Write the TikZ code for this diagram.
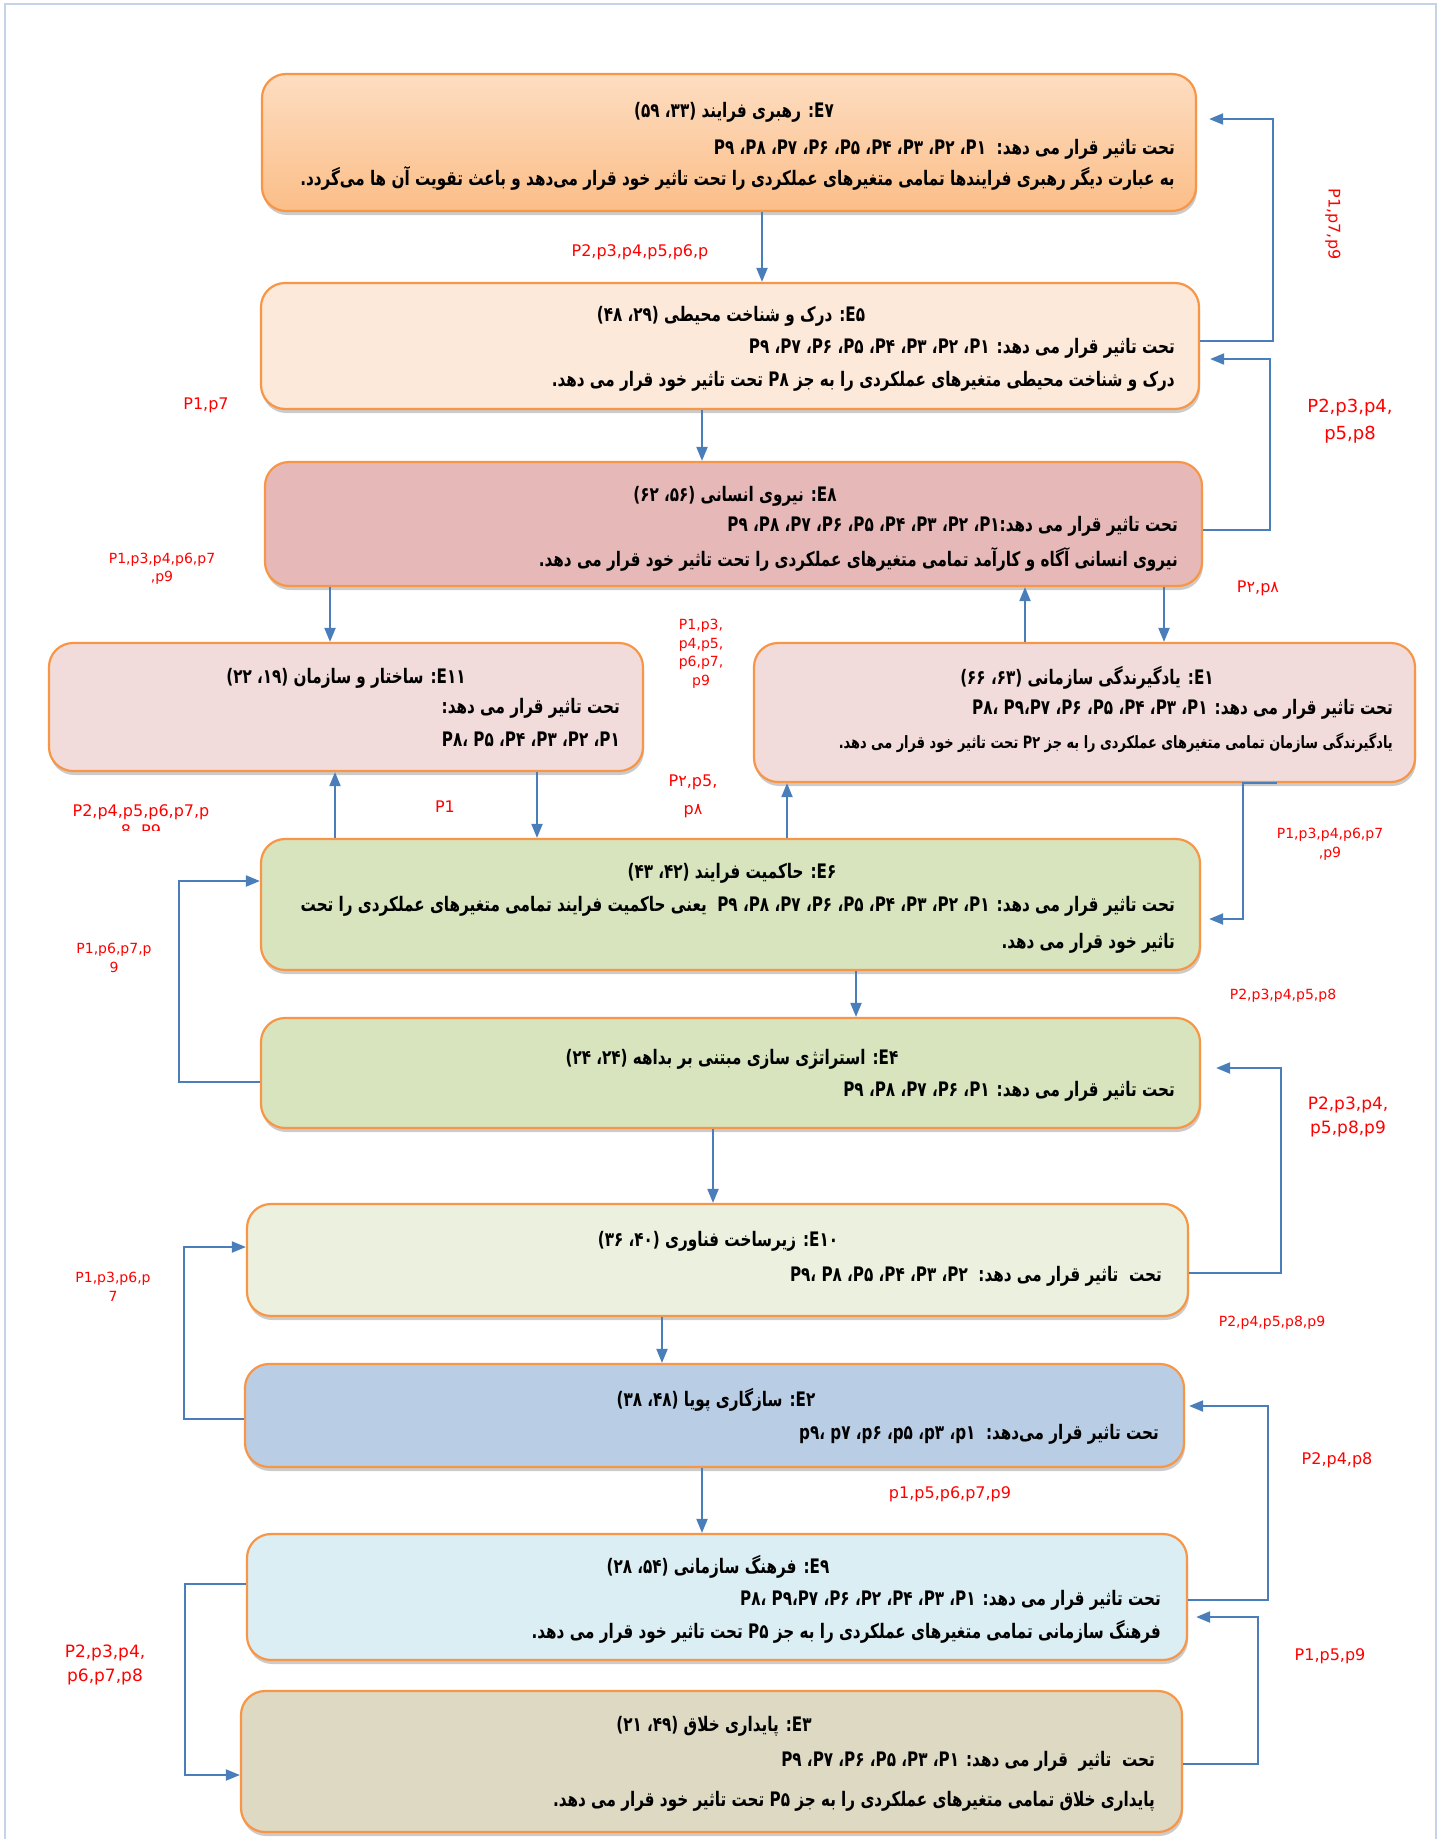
\documentclass[tikz,border=0pt]{standalone}
\usepackage{fontspec}
\setmainfont{DejaVu Sans}
\newfontfamily\fafont[Script=Arabic,FakeStretch=0.76]{DejaVu Sans}
\TeXXeTstate=1
\usetikzlibrary{arrows.meta,shadows}
\newcommand{\rl}[1]{\beginR #1\endR}
\newcommand{\ac}{\kern0pt،\kern0pt}
\begin{document}
\begin{tikzpicture}[x=1pt,y=-1pt,
  ebox/.style={draw=eborder,line width=2.2pt,rounded corners=24pt,inner sep=0pt,
    drop shadow={shadow xshift=1pt,shadow yshift=-4pt,fill=black!45,opacity=0.45}},
  ttl/.style={anchor=mid,yshift=-4pt,inner sep=0pt,font=\fontsize{20}{24}\selectfont\fafont\bfseries},
  txt/.style={anchor=mid east,yshift=-4pt,inner sep=0pt,font=\fontsize{20}{24}\selectfont\fafont\bfseries},
  stxt/.style={txt,font=\fontsize{17}{21}\selectfont\fafont\bfseries},
  lbl/.style={text=red,align=center,inner sep=1pt,font=\fontsize{16}{20}\selectfont},
  slbl/.style={lbl,font=\fontsize{14}{18.5}\selectfont},
  blbl/.style={lbl,font=\fontsize{17}{24}\selectfont},
  conn/.style={draw=arrowc,line width=2pt,-{Triangle[length=14pt,width=11pt]}}]
\definecolor{eborder}{HTML}{F79646}
\definecolor{arrowc}{HTML}{4A7EBB}
\definecolor{framec}{HTML}{C5D3E8}
\definecolor{e7a}{HTML}{FDDDC1}
\definecolor{e7b}{HTML}{FBBE88}
\definecolor{e5}{HTML}{FDE9D9}
\definecolor{e8}{HTML}{E6B9B8}
\definecolor{e11}{HTML}{F2DCDB}
\definecolor{e6}{HTML}{D7E4BD}
\definecolor{e10}{HTML}{EBF1DE}
\definecolor{e2}{HTML}{B9CDE5}
\definecolor{e9}{HTML}{DBEEF4}
\definecolor{e3}{HTML}{DDD9C3}
\useasboundingbox (0,0) rectangle (1439,1839);
\draw[framec,line width=1.2pt] (5,1839) -- (5,4) -- (1436,4) -- (1436,1839);

\node[ebox,top color=e7a,bottom color=e7b,minimum width=934pt,minimum height=137pt] (E7) at (729,142.5) {};
\node[ebox,fill=e5,minimum width=938pt,minimum height=126pt] (E5) at (730,346) {};
\node[ebox,fill=e8,minimum width=937pt,minimum height=124pt] (E8) at (733.5,524) {};
\node[ebox,fill=e11,minimum width=594pt,minimum height=128pt] (E11) at (346,707) {};
\node[ebox,fill=e11,minimum width=661pt,minimum height=139pt] (E1) at (1084.5,712.5) {};
\node[ebox,fill=e6,minimum width=939pt,minimum height=131pt] (E6) at (730.5,904.5) {};
\node[ebox,fill=e6,minimum width=939pt,minimum height=110pt] (E4) at (730.5,1073) {};
\node[ebox,fill=e10,minimum width=941pt,minimum height=112pt] (E10) at (717.5,1260) {};
\node[ebox,fill=e2,minimum width=939pt,minimum height=103pt] (E2) at (714.5,1415.5) {};
\node[ebox,fill=e9,minimum width=940pt,minimum height=126pt] (E9) at (717,1597) {};
\node[ebox,fill=e3,minimum width=941pt,minimum height=141pt] (E3) at (711.5,1761.5) {};

\node[ttl] (E7t) at (734,111) {\rl{E۷\kern0pt: رهبری فرایند (۳۳، ۵۹)}};
\node[txt] (E7a) at (1175,148) {\rl{تحت تاثیر قرار می دهد:\ \ P۱\ac{} P۲\ac{} P۳\ac{} P۴\ac{} P۵\ac{} P۶\ac{} P۷\ac{} P۸\ac{} P۹}};
\node[txt] (E7b) at (1175,179) {\rl{به عبارت دیگر رهبری فرایندها تمامی متغیرهای عملکردی را تحت تاثیر خود قرار می‌دهد و باعث تقویت آن ها می‌گردد.}};

\node[ttl] (E5t) at (731,315) {\rl{E۵\kern0pt: درک و شناخت محیطی (۲۹، ۴۸)}};
\node[txt] (E5a) at (1175,347) {\rl{تحت تاثیر قرار می دهد: P۱\ac{} P۲\ac{} P۳\ac{} P۴\ac{} P۵\ac{} P۶\ac{} P۷\ac{} P۹}};
\node[txt] (E5b) at (1175,380) {\rl{درک و شناخت محیطی متغیرهای عملکردی را به جز P۸ تحت تاثیر خود قرار می دهد.}};

\node[ttl] (E8t) at (735,495) {\rl{E۸\kern0pt: نیروی انسانی (۵۶، ۶۲)}};
\node[txt] (E8a) at (1178,525) {\rl{تحت تاثیر قرار می دهد:\kern0pt P۱\ac{} P۲\ac{} P۳\ac{} P۴\ac{} P۵\ac{} P۶\ac{} P۷\ac{} P۸\ac{} P۹}};
\node[txt] (E8b) at (1178,560) {\rl{نیروی انسانی آگاه و کارآمد تمامی متغیرهای عملکردی را تحت تاثیر خود قرار می دهد.}};

\node[ttl] (E11t) at (346,677) {\rl{E۱۱\kern0pt: ساختار و سازمان (۱۹، ۲۲)}};
\node[txt] (E11a) at (620,707) {\rl{تحت تاثیر قرار می دهد:}};
\node[txt] (E11b) at (620,740) {\rl{P۱\ac{} P۲\ac{} P۳\ac{} P۴\ac{} P۵ ،\kern0pt P۸}};

\node[ttl] (E1t) at (1087,678) {\rl{E۱\kern0pt: یادگیرندگی سازمانی (۶۳، ۶۶)}};
\node[txt] (E1a) at (1393,708) {\rl{تحت تاثیر قرار می دهد: P۱\ac{} P۳\ac{} P۴\ac{} P۵\ac{} P۶\ac{} P۷\ac{}P۹ ،\kern0pt P۸}};
\node[stxt] (E1b) at (1393,742) {\rl{یادگیرندگی سازمان تمامی متغیرهای عملکردی را به جز P۲ تحت تاثیر خود قرار می دهد.}};

\node[ttl] (E6t) at (732,872) {\rl{E۶\kern0pt: حاکمیت فرایند (۴۲، ۴۳)}};
\node[txt] (E6a) at (1175,905) {\rl{تحت تاثیر قرار می دهد: P۱\ac{} P۲\ac{} P۳\ac{} P۴\ac{} P۵\ac{} P۶\ac{} P۷\ac{} P۸\ac{} P۹\ \ یعنی حاکمیت فرایند تمامی متغیرهای عملکردی را تحت}};
\node[txt] (E6b) at (1175,942) {\rl{تاثیر خود قرار می دهد.}};

\node[ttl] (E4t) at (732,1058) {\rl{E۴\kern0pt: استراتژی سازی مبتنی بر بداهه (۲۴، ۲۴)}};
\node[txt] (E4a) at (1175,1090) {\rl{تحت تاثیر قرار می دهد: P۱\ac{} P۶\ac{} P۷\ac{} P۸\ac{} P۹}};

\node[ttl] (E10t) at (718,1240) {\rl{E۱۰\kern0pt: زیرساخت فناوری (۴۰، ۳۶)}};
\node[txt] (E10a) at (1162,1275) {\rl{تحت\ \ تاثیر قرار می دهد:\ \ P۲\ac{} P۳\ac{} P۴\ac{} P۵\ac{} P۸ ،\kern0pt P۹}};

\node[ttl] (E2t) at (716,1400) {\rl{E۲\kern0pt: سازگاری پویا (۴۸، ۳۸)}};
\node[txt] (E2a) at (1159,1433) {\rl{تحت تاثیر قرار می‌دهد:\ \ p۱\ac{} p۳\ac{} p۵\ac{} p۶\ac{} p۷ ،\kern0pt p۹}};

\node[ttl] (E9t) at (718,1567) {\rl{E۹\kern0pt: فرهنگ سازمانی (۵۴، ۲۸)}};
\node[txt] (E9a) at (1161,1599) {\rl{تحت تاثیر قرار می دهد: P۱\ac{} P۳\ac{} P۴\ac{} P۲\ac{} P۶\ac{} P۷\ac{}P۹ ،\kern0pt P۸}};
\node[txt] (E9b) at (1161,1632) {\rl{فرهنگ سازمانی تمامی متغیرهای عملکردی را به جز P۵ تحت تاثیر خود قرار می دهد.}};

\node[ttl] (E3t) at (714,1725) {\rl{E۳\kern0pt: پایداری خلاق (۴۹، ۲۱)}};
\node[txt] (E3a) at (1155,1760) {\rl{تحت\ \ تاثیر\ \ قرار می دهد: P۱\ac{} P۳\ac{} P۵\ac{} P۶\ac{} P۷\ac{} P۹}};
\node[txt] (E3b) at (1155,1800) {\rl{پایداری خلاق تمامی متغیرهای عملکردی را به جز P۵ تحت تاثیر خود قرار می دهد.}};

\draw[conn] (E7.south -| 762,0) -- (E5.north -| 762,0);
\draw[conn] (E5.south -| 702,0) -- (E8.north -| 702,0);
\draw[conn] (E8.south -| 330,0) -- (E11.north -| 330,0);
\draw[conn] (E8.south -| 1164,0) -- (E1.north -| 1164,0);
\draw[conn] (E1.north -| 1025,0) -- (E8.south -| 1025,0);
\draw[conn] (E6.north -| 335,0) -- (E11.south -| 335,0);
\draw[conn] (E11.south -| 537,0) -- (E6.north -| 537,0);
\draw[conn] (E6.north -| 787,0) -- (E1.south -| 787,0);
\draw[conn] (E1.south -| 1277,0) -| (1243,919) -- ([xshift=8pt]E6.east |- 0,919);
\draw[conn] (E6.south -| 856,0) -- (E4.north -| 856,0);
\draw[conn] (E4.west |- 0,1082) -| (179,881) -- (E6.west |- 0,881);
\draw[conn] (E4.south -| 713,0) -- (E10.north -| 713,0);
\draw[conn] (E10.east |- 0,1273) -| (1281,1068) -- ([xshift=15pt]E4.east |- 0,1068);
\draw[conn] (E10.south -| 662,0) -- (E2.north -| 662,0);
\draw[conn] (E2.west |- 0,1419) -| (184,1247) -- (E10.west |- 0,1247);
\draw[conn] (E2.south -| 702,0) -- (E9.north -| 702,0);
\draw[conn] (E9.east |- 0,1600) -| (1268,1406) -- ([xshift=4pt]E2.east |- 0,1406);
\draw[conn] (E3.east |- 0,1764) -| (1258,1617) -- ([xshift=8pt]E9.east |- 0,1617);
\draw[conn] (E9.west |- 0,1584) -| (185,1775) -- (E3.west |- 0,1775);
\draw[conn] (E5.east |- 0,341) -| (1273,119) -- ([xshift=12pt]E7.east |- 0,119);
\draw[conn] (E8.east |- 0,530) -| (1270,359) -- ([xshift=10pt]E5.east |- 0,359);

\node[lbl] (L1) at (640,252) {P2,p3,p4,p5,p6,p};
\node[lbl] (L2) at (206,405) {P1,p7};
\node[slbl] (L3) at (162,569) {P1,p3,p4,p6,p7\\,p9};
\begin{scope}
\clip (60,790) rectangle (240,830);
\node[lbl] (L4) at (141,821) {P2,p4,p5,p6,p7,p\\8, P9};
\end{scope}
\node[slbl] (L5) at (114,958) {P1,p6,p7,p\\9};
\node[slbl] (L6) at (113,1287) {P1,p3,p6,p\\7};
\node[blbl] (L7) at (105,1665) {P2,p3,p4,\\p6,p7,p8};
\node[slbl] (L8) at (701,654) {P1,p3,\\p4,p5,\\p6,p7,\\p9};
\node[lbl,font=\fontsize{16}{28}\selectfont] (L9) at (693,796) {P۲,p5,\\p۸};
\node[lbl] (L10) at (445,807) {P1};
\node[lbl] (L11) at (1258,588) {P۲,p۸};
\node[lbl,rotate=-90] (L12) at (1333,224) {P1,p7,p9};
\node[blbl,font=\fontsize{18}{27}\selectfont] (L13) at (1350,421) {P2,p3,p4,\\p5,p8};
\node[slbl] (L14) at (1330,844) {P1,p3,p4,p6,p7\\,p9};
\node[slbl] (L15) at (1283,996) {P2,p3,p4,p5,p8};
\node[blbl] (L16) at (1348,1117) {P2,p3,p4,\\p5,p8,p9};
\node[slbl] (L17) at (1272,1323) {P2,p4,p5,p8,p9};
\node[lbl] (L18) at (1337,1460) {P2,p4,p8};
\node[lbl,fill=white,minimum width=171pt,minimum height=42pt] (L19) at (950,1494) {p1,p5,p6,p7,p9};
\node[lbl] (L20) at (1330,1656) {P1,p5,p9};
\end{tikzpicture}
\end{document}
